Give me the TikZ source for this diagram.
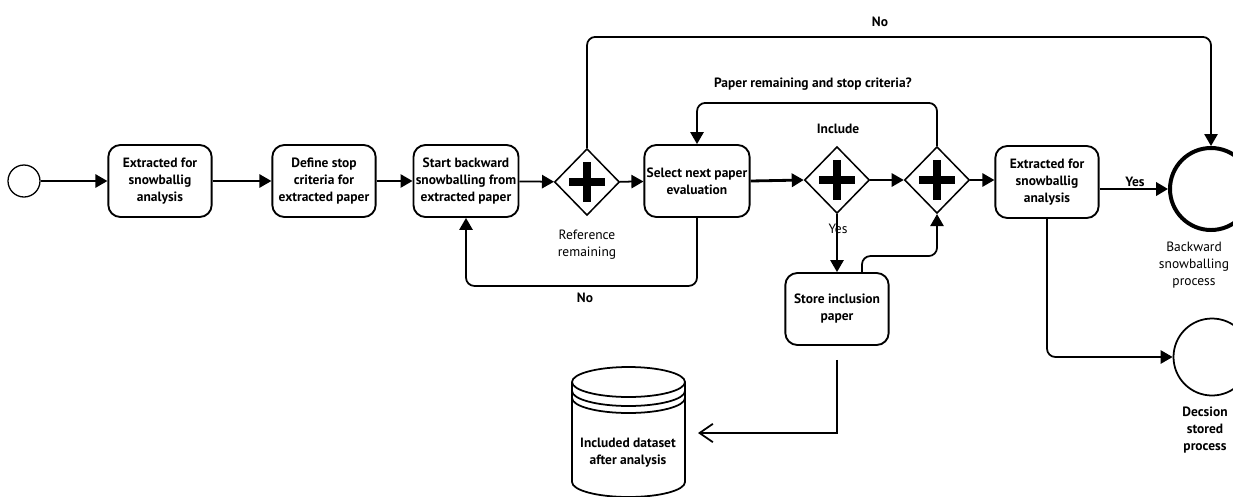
\documentclass[tikz,border=0pt]{standalone}
\usepackage{fontspec}
\setmainfont{PT Sans}
\usetikzlibrary{arrows.meta,positioning,shapes.geometric,calc}

\begin{document}
\begin{tikzpicture}[x=0.03cm, y=-0.03cm, >={Triangle[length=0.36cm,width=0.4cm]},
  font=\fontsize{11.5}{14.5}\selectfont\bfseries,
  task/.style={draw, line width=1.6pt, rounded corners=0.36cm, minimum width=3.1cm, minimum height=2.16cm, align=center, inner sep=2pt},
  gate/.style={draw, diamond, line width=1.3pt, minimum width=1.95cm, minimum height=2cm, inner sep=0pt},
  event/.style={draw, circle, inner sep=0pt},
  flow/.style={->, line width=1.5pt},
  lbl/.style={align=center, inner sep=1pt},
  plain/.style={font=\fontsize{11.5}{14.5}\selectfont}]
  \useasboundingbox (0,0) rectangle (1233,496);

  % events
  \node[event, line width=1.1pt, minimum size=0.96cm] (startev) at (24,181) {};
  \node[event, line width=3.4pt, minimum size=2.46cm] (backend) at (1211,189) {};
  \node[event, line width=1.5pt, minimum size=2.31cm] (decend) at (1212,357) {};

  % tasks
  \node[task] (extract) at (160,181) {Extracted for\\snowballig\\analysis};
  \node[task] (definestop) at (324,181) {Define stop\\criteria for\\extracted paper};
  \node[task] (startback) at (466,181) {Start backward\\snowballing from\\extracted paper};
  \node[task] (selectnext) at (697,181) {Select next paper\\evaluation};
  \node[task] (extractb) at (1047,182) {Extracted for\\snowballig\\analysis};
  \node[task] (storeinc) at (837,309) {Store inclusion\\paper};

  % gateways
  \node[gate] (gwref) at (587,182) {};
  \node[gate] (gwinc) at (837,180) {};
  \node[gate] (gwstop) at (937,180) {};
  \foreach \g in {gwref,gwinc,gwstop}
    \draw[line width=0.24cm] ($(\g.center)+(-18,0)$) -- ($(\g.center)+(18,0)$)
      ($(\g.center)+(0,-20)$) -- ($(\g.center)+(0,20)$);

  % data store
  \draw[line width=1.5pt] (572,382) -- (572,482) arc[start angle=180, end angle=0, x radius=56.5, y radius=15] -- (685,382);
  \draw[line width=1.5pt] (628.5,382) ellipse[x radius=56.5, y radius=15];
  \draw[line width=1.5pt] (572,391) arc[start angle=180, end angle=0, x radius=56.5, y radius=15];
  \draw[line width=1.5pt] (572,398) arc[start angle=180, end angle=0, x radius=56.5, y radius=15];
  \node[lbl] (db) at (628,453) {Included dataset\\after analysis};
  \coordinate (dbin) at (698,433);

  % labels
  \node[lbl] at (880,22) {No};
  \node[lbl] at (813,84) {Paper remaining and stop criteria?};
  \node[lbl] at (838,129) {Include};
  \node[lbl, plain] at (838,229) {Yes};
  \node[lbl] at (585,298) {No};
  \node[lbl] at (1135,182) {Yes};
  \node[lbl, plain] at (587,245) {Reference\\remaining};
  \node[lbl, plain] at (1194,265) {Backward\\snowballing\\process};
  \node[lbl] at (1205,430) {Decsion\\stored\\process};

  % sequence flows
  \draw[flow] (startev) -- (extract);
  \draw[flow] (extract) -- (definestop);
  \draw[flow] (definestop) -- (startback);
  \draw[flow] (startback) -- (gwref);
  \draw[flow] (gwref) -- (selectnext);
  \draw[flow, line width=2.4pt] (selectnext.east) -- (gwinc.west);
  \draw[flow] (gwinc) -- (gwstop);
  \draw[flow] (gwstop.east) -- (extractb.west |- gwstop.east);
  \draw[flow, line width=2.4pt] (extractb.east |- backend.west) -- (backend.west);
  \draw[flow, rounded corners=0.25cm] (gwref.north) -- ++(0,-111) -| (backend.north);
  \draw[flow, rounded corners=0.25cm] (gwstop.north) -- ++(0,-43) -| (selectnext.north);
  \draw[flow, rounded corners=0.25cm] (selectnext.south) -- ++(0,68) -| (startback.south);
  \draw[flow] (gwinc.south) -- (storeinc.north);
  \draw[flow, rounded corners=0.25cm] ($(storeinc.north)+(25,0)$) -- ++(0,-16) -| (gwstop.south);
  \draw[flow, rounded corners=0.25cm] (extractb.south) |- (decend.west);
  \draw[-{Straight Barb[length=0.4cm,width=0.55cm]}, line width=1.5pt, shorten <=0.42cm] (storeinc.south) |- (dbin);
\end{tikzpicture}
\end{document}
